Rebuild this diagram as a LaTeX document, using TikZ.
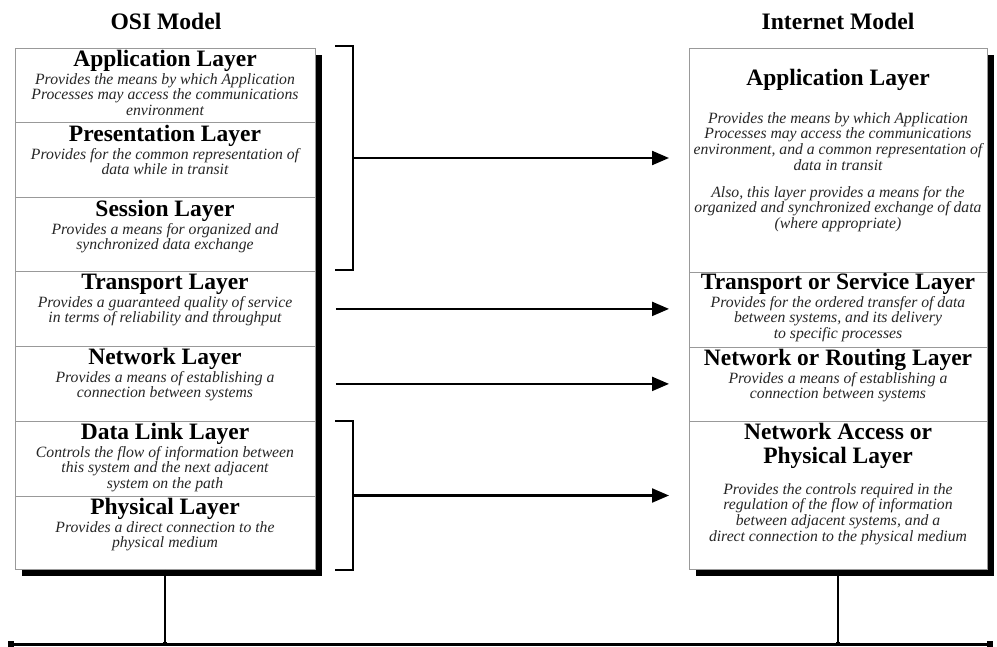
\documentclass[tikz,border=0pt]{standalone}
\usepackage{fontspec}
\setmainfont{Liberation Serif}
\usetikzlibrary{arrows.meta,shadows}
% struts fixing the height of the first line of headers and descriptions
\newcommand\hdstrut{\rule{0pt}{17pt}}
\newcommand\dsstrut{\rule{0pt}{12pt}}
\begin{document}
\begin{tikzpicture}[x=1pt,y=-1pt,
  title/.style={font=\fontsize{23.6}{24}\selectfont\bfseries, anchor=base, inner sep=0},
  modelbox/.style={draw=black!40, line width=0.8pt, fill=white, inner sep=0,
    anchor=north west, minimum width=#1, minimum height=521pt,
    drop shadow={shadow xshift=7pt, shadow yshift=-7pt, fill=black, opacity=1}},
  layerbox/.style={draw=black!40, line width=0.8pt, inner sep=0, anchor=north west},
  hd/.style={font=\fontsize{23.5}{24}\selectfont\bfseries, anchor=base, inner sep=0},
  hdml/.style={font=\fontsize{23.5}{24}\selectfont\bfseries, anchor=north, align=center, inner sep=0},
  ds/.style={font=\fontsize{15.7}{15.7}\selectfont\itshape, text=black!85, anchor=north, align=center, inner sep=0},
  bracket/.style={line width=1.8pt, line join=miter},
  arr/.style={line width=2.2pt, -{Triangle[length=17pt,width=14pt]}},
  bus/.style={line width=3pt},
  drop/.style={line width=2pt},
  busend/.style={fill=black, inner sep=0, minimum size=#1},
]
\useasboundingbox (0,0) rectangle (997,646);

% titles
\node[title] (osiTitle) at (166,29) {OSI Model};
\node[title] (inetTitle) at (838,29) {Internet Model};

% ---------------- OSI model ----------------
\node[modelbox=300pt] (osi) at (15,48) {};
\node[layerbox, minimum width=300pt, minimum height=74pt] (osiApp)   at (15,48)  {};
\node[layerbox, minimum width=300pt, minimum height=75pt] (osiPres)  at (15,122) {};
\node[layerbox, minimum width=300pt, minimum height=74pt] (osiSess)  at (15,197) {};
\node[layerbox, minimum width=300pt, minimum height=75pt] (osiTrans) at (15,271) {};
\node[layerbox, minimum width=300pt, minimum height=75pt] (osiNet)   at (15,346) {};
\node[layerbox, minimum width=300pt, minimum height=75pt] (osiDL)    at (15,421) {};
\node[layerbox, minimum width=300pt, minimum height=73pt] (osiPhys)  at (15,496) {};

\node[hd] (osiAppH) at (165,66) {Application Layer};
\node[ds] (osiAppD) at (165,72) {\dsstrut Provides the means by which Application\\Processes may access the communications\\environment};
\node[hd] (osiPresH) at (165,141) {Presentation Layer};
\node[ds] (osiPresD) at (165,147) {\dsstrut Provides for the common representation of\\data while in transit};
\node[hd] (osiSessH) at (165,216) {Session Layer};
\node[ds] (osiSessD) at (165,222) {\dsstrut Provides a means for organized and\\synchronized data exchange};
\node[hd] (osiTransH) at (165,289) {Transport Layer};
\node[ds] (osiTransD) at (165,295) {\dsstrut Provides a guaranteed quality of service\\in terms of reliability and throughput};
\node[hd] (osiNetH) at (165,364) {Network Layer};
\node[ds] (osiNetD) at (165,370) {\dsstrut Provides a means of establishing a\\connection between systems};
\node[hd] (osiDLH) at (165,439) {Data Link Layer};
\node[ds] (osiDLD) at (165,445) {\dsstrut Controls the flow of information between\\this system and the next adjacent\\system on the path};
\node[hd] (osiPhysH) at (165,514) {Physical Layer};
\node[ds] (osiPhysD) at (165,520) {\dsstrut Provides a direct connection to the\\physical medium};

% ---------------- Internet model ----------------
\node[modelbox=298pt] (inet) at (689,48) {};
\node[layerbox, minimum width=298pt, minimum height=224pt] (inetApp)   at (689,48)  {};
\node[layerbox, minimum width=298pt, minimum height=75pt]  (inetTrans) at (689,272) {};
\node[layerbox, minimum width=298pt, minimum height=74pt]  (inetNet)   at (689,347) {};
\node[layerbox, minimum width=298pt, minimum height=148pt] (inetNA)    at (689,421) {};

\node[hd] (inetAppH) at (838,85) {Application Layer};
\node[ds] (inetAppD) at (838,111) {\dsstrut Provides the means by which Application\\Processes may access the communications\\environment, and a common representation of\\data in transit\\[11pt]Also, this layer provides a means for the\\organized and synchronized exchange of data\\(where appropriate)};
\node[hd] (inetTransH) at (838,289) {Transport or Service Layer};
\node[ds] (inetTransD) at (838,295) {\dsstrut Provides for the ordered transfer of data\\between systems, and its delivery\\to specific processes};
\node[hd] (inetNetH) at (838,365) {Network or Routing Layer};
\node[ds] (inetNetD) at (838,371) {\dsstrut Provides a means of establishing a\\connection between systems};
\node[hdml] (inetNAH) at (838,422) {\hdstrut Network Access or\\Physical Layer};
\node[ds] (inetNAD) at (838,482) {\dsstrut Provides the controls required in the\\regulation of the flow of information\\between adjacent systems, and a\\direct connection to the physical medium};

% ---------------- brackets and mapping arrows ----------------
\coordinate (brUpTop) at (335,46);
\coordinate (brUpBot) at (335,270);
\coordinate (brUpMid) at (353,158);
\draw[bracket] (brUpTop) -| (brUpMid) |- (brUpBot);

\coordinate (brLoTop) at (335,421);
\coordinate (brLoBot) at (335,570);
\coordinate (brLoMid) at (353,495.5);
\draw[bracket] (brLoTop) -| (brLoMid) |- (brLoBot);

\draw[arr, shorten >=20pt] (brUpMid) -- (brUpMid -| inetApp.west);
\draw[arr, shorten <=20pt, shorten >=20pt] (osiTrans.east) -- (osiTrans.east -| inetTrans.west);
\draw[arr, shorten <=20pt, shorten >=20pt] (osiNet.east) -- (osiNet.east -| inetNet.west);
\draw[arr, shorten >=20pt] (brLoMid) -- (brLoMid -| inetNA.west);

% ---------------- common medium ----------------
\coordinate (busL) at (8,644);
\coordinate (busR) at (993,644);
\draw[bus] (busL) -- (busR);
\draw[drop] (osi.south) -- (osi.south |- busL);
\draw[drop] (inet.south) -- (inet.south |- busL);
\node[busend=6pt] (busLend) at (11,643.5) {};
\node[busend=6pt] (busRend) at (990,643.5) {};
\node[busend=4pt] (busJoinL) at (osi.south |- busL) {};
\node[busend=4pt] (busJoinR) at (inet.south |- busL) {};
\end{tikzpicture}
\end{document}
